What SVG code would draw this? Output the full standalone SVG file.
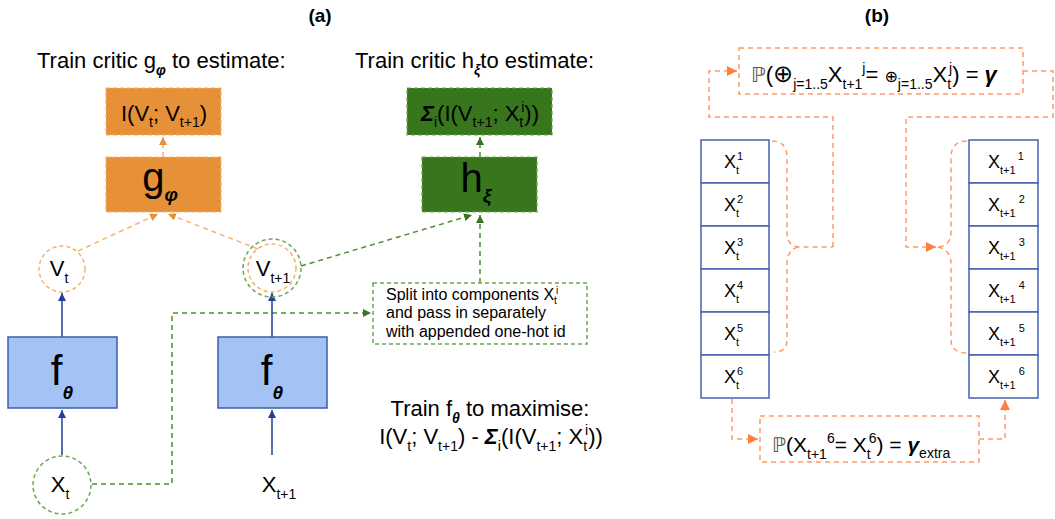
<svg xmlns="http://www.w3.org/2000/svg" width="1055" height="519" viewBox="0 0 1055 519">
<defs>
<style>
text{font-family:"Liberation Sans",Arial,"DejaVu Sans",sans-serif;fill:#000}
.ttl{font-size:22px}
.hd{font-size:19px;font-weight:bold}
.sub{font-size:14px}
.gi{font-weight:bold;font-style:italic}
.oa{stroke:#F6B26B;stroke-width:1.5;stroke-dasharray:5 4;fill:none}
.ga{stroke:#4E8F2E;stroke-width:1.5;stroke-dasharray:5 4;fill:none}
.ba{stroke:#1F3F99;stroke-width:1.5;fill:none}
.ca{stroke:#FF9966;stroke-width:1.5;stroke-dasharray:5 4;fill:none}
.cell{fill:#fff;stroke:#4562B0;stroke-width:1.5}
.cx{font-size:18px}
.cs{font-size:11px}
</style>
<marker id="mo" markerWidth="10" markerHeight="10" refX="8" refY="4" orient="auto" markerUnits="userSpaceOnUse"><path d="M0,0 L8,4 L0,8 z" fill="#E69138"/></marker>
<marker id="mg" markerWidth="10" markerHeight="10" refX="8" refY="4" orient="auto" markerUnits="userSpaceOnUse"><path d="M0,0 L8,4 L0,8 z" fill="#38761D"/></marker>
<marker id="mb" markerWidth="10" markerHeight="10" refX="8" refY="4" orient="auto" markerUnits="userSpaceOnUse"><path d="M0,0 L8,4 L0,8 z" fill="#1F3F99"/></marker>
<marker id="mc" markerWidth="12" markerHeight="12" refX="10" refY="5" orient="auto" markerUnits="userSpaceOnUse"><path d="M0,0 L10,5 L0,10 z" fill="#FF7F3F"/></marker>
</defs>

<text class="hd" x="320" y="22" text-anchor="middle">(a)</text>
<text class="hd" x="877" y="22" text-anchor="middle">(b)</text>

<text class="ttl" x="37" y="68">Train critic g<tspan class="sub gi" dy="7">φ</tspan><tspan dy="-7"> to estimate:</tspan></text>
<text class="ttl" x="355" y="68">Train critic h<tspan class="sub gi" dy="7">ξ</tspan><tspan dy="-7">to estimate:</tspan></text>

<g id="connectors">
<line class="oa" x1="163" y1="157" x2="163" y2="137" marker-end="url(#mo)"/>
<line class="oa" x1="78" y1="251" x2="158" y2="214" marker-end="url(#mo)"/>
<line class="oa" x1="258" y1="249" x2="168" y2="214" marker-end="url(#mo)"/>
<line class="ga" x1="480" y1="157" x2="480" y2="137" marker-end="url(#mg)"/>
<line class="ga" x1="480" y1="283" x2="480" y2="215" marker-end="url(#mg)"/>
<line class="ga" x1="301" y1="266" x2="472" y2="215" marker-end="url(#mg)"/>
<path class="ga" d="M92,484 H172 V313 H371" marker-end="url(#mg)"/>
<line class="ba" x1="62" y1="337" x2="62" y2="293" marker-end="url(#mb)"/>
<line class="ba" x1="62" y1="455" x2="62" y2="410" marker-end="url(#mb)"/>
<line class="ba" x1="272" y1="337" x2="272" y2="293" marker-end="url(#mb)"/>
<line class="ba" x1="272" y1="455" x2="272" y2="410" marker-end="url(#mb)"/>
<path class="ca" d="M833,247 V117 H709 V71 H737" marker-end="url(#mc)"/>
<path class="ca" d="M1023,71 H1053 V117 H906 V247 H936" marker-end="url(#mc)"/>
<path class="ca" d="M772,141 Q787,141 787,158 V232 Q787,247 800,247 H833"/>
<path class="ca" d="M798,247 Q787,250 787,264 V340 Q787,352 774,352"/>
<path class="ca" d="M967,141 Q951,141 951,158 V232 Q951,247 936,247"/>
<path class="ca" d="M938,247 Q951,250 951,264 V340 Q951,353 968,353"/>
<path class="ca" d="M732,399 V439 H758" marker-end="url(#mc)"/>
<path class="ca" d="M979,439 H1005 V400" marker-end="url(#mc)"/>
</g>

<g id="node-ivv">
<rect x="106" y="88" width="115" height="47" fill="#E69138" stroke="#F6B26B" stroke-width="1.2" stroke-dasharray="4 3"/>
<text class="ttl" x="164" y="121" text-anchor="middle">I(V<tspan class="sub" dy="6">t</tspan><tspan dy="-6">; V</tspan><tspan class="sub" dy="6">t+1</tspan><tspan dy="-6">)</tspan></text>
</g>
<g id="node-g">
<rect x="106" y="157" width="115" height="55" fill="#E69138" stroke="#F6B26B" stroke-width="1.2" stroke-dasharray="4 3"/>
<text x="160" y="191" font-size="40" text-anchor="middle">g<tspan class="gi" font-size="19" dy="10">φ</tspan></text>
</g>
<g id="node-sigma">
<rect x="407" y="88" width="145" height="47" fill="#38761D" stroke="#6AA84F" stroke-width="1.2" stroke-dasharray="4 3"/>
<text class="ttl" x="480" y="121" text-anchor="middle"><tspan class="gi">Σ</tspan><tspan class="sub" dy="6">i</tspan><tspan dy="-6">(I(V</tspan><tspan class="sub" dy="6">t+1</tspan><tspan dy="-6">; X</tspan><tspan class="sub" dy="6">t</tspan><tspan class="sub" dx="-2" dy="-15">i</tspan><tspan dy="9">))</tspan></text>
</g>
<g id="node-h">
<rect x="422" y="157" width="115" height="55" fill="#38761D" stroke="#6AA84F" stroke-width="1.2" stroke-dasharray="4 3"/>
<text x="476" y="192" font-size="40" text-anchor="middle">h<tspan class="gi" font-size="19" dy="10">ξ</tspan></text>
</g>
<g id="node-vt">
<circle cx="62" cy="269" r="23" fill="none" stroke="#F6B26B" stroke-width="1.5" stroke-dasharray="4 3"/>
<text class="ttl" x="59" y="276" text-anchor="middle">V<tspan class="sub" dy="7">t</tspan></text>
</g>
<g id="node-vt1">
<circle cx="272" cy="268" r="24" fill="none" stroke="#F6B26B" stroke-width="1.5" stroke-dasharray="4 3"/>
<circle cx="272" cy="268" r="29" fill="none" stroke="#6AA84F" stroke-width="1.5" stroke-dasharray="4 3"/>
<text class="ttl" x="273" y="276" text-anchor="middle">V<tspan class="sub" dy="7">t+1</tspan></text>
</g>
<g id="node-f1">
<rect x="8" y="337" width="109" height="71" fill="#A4C2F4" stroke="#3C5DAA" stroke-width="1.5"/>
<text x="62" y="385" font-size="42" text-anchor="middle">f<tspan class="gi" font-size="19" dy="14">θ</tspan></text>
</g>
<g id="node-f2">
<rect x="218" y="337" width="109" height="71" fill="#A4C2F4" stroke="#3C5DAA" stroke-width="1.5"/>
<text x="272" y="385" font-size="42" text-anchor="middle">f<tspan class="gi" font-size="19" dy="14">θ</tspan></text>
</g>
<g id="node-xt">
<circle cx="62" cy="485" r="29" fill="none" stroke="#6AA84F" stroke-width="1.5" stroke-dasharray="4 3"/>
<text class="ttl" x="60" y="492" text-anchor="middle">X<tspan class="sub" dy="7">t</tspan></text>
</g>
<g id="node-xt1">
<text class="ttl" x="279" y="492" text-anchor="middle">X<tspan class="sub" dy="7">t+1</tspan></text>
</g>
<g id="node-split">
<rect x="373" y="283" width="214" height="61" fill="#fff" stroke="#6AA84F" stroke-width="1.5" stroke-dasharray="4 3"/>
<text font-size="16" x="386" y="300">Split into components X<tspan font-size="10" dy="4">t</tspan><tspan font-size="10" dx="-1" dy="-10">i</tspan></text>
<text font-size="16" x="386" y="318">and pass in separately</text>
<text font-size="16" x="386" y="337">with appended one-hot id</text>
</g>
<g id="node-trainf">
<text class="ttl" x="490" y="416" text-anchor="middle">Train f<tspan class="sub gi" dy="7">θ</tspan><tspan dy="-7"> to maximise:</tspan></text>
<text class="ttl" x="491" y="444" text-anchor="middle">I(V<tspan class="sub" dy="7">t</tspan><tspan dy="-7">; V</tspan><tspan class="sub" dy="7">t+1</tspan><tspan dy="-7">) - </tspan><tspan class="gi">Σ</tspan><tspan class="sub" dy="7">i</tspan><tspan dy="-7">(I(V</tspan><tspan class="sub" dy="7">t+1</tspan><tspan dy="-7">; X</tspan><tspan class="sub" dy="7">t</tspan><tspan class="sub" dx="-2" dy="-16">i</tspan><tspan dy="9">))</tspan></text>
</g>

<g id="node-top-b">
<rect x="739" y="48" width="284" height="46" fill="none" stroke="#FF9966" stroke-width="1.5" stroke-dasharray="5 4"/>
<text x="751" y="82" font-size="22"><tspan font-family="DejaVu Sans" fill="#555" font-size="21">ℙ</tspan>(<tspan font-size="24">⊕</tspan><tspan class="sub" dy="7">j=1..5</tspan><tspan dy="-7">X</tspan><tspan class="sub" dy="7">t+1</tspan><tspan class="sub" dy="-16">j</tspan><tspan dy="9">= </tspan><tspan font-size="16">⊕</tspan><tspan class="sub" dy="7">j=1..5</tspan><tspan dy="-7">X</tspan><tspan class="sub" dy="7">t</tspan><tspan class="sub" dx="-2" dy="-16">j</tspan><tspan dy="9">) = </tspan><tspan class="gi">γ</tspan></text>
</g>

<g id="node-colL">
<rect class="cell" x="701" y="140" width="68" height="43"/>
<rect class="cell" x="701" y="183" width="68" height="43"/>
<rect class="cell" x="701" y="226" width="68" height="43"/>
<rect class="cell" x="701" y="269" width="68" height="43"/>
<rect class="cell" x="701" y="312" width="68" height="43"/>
<rect class="cell" x="701" y="355" width="68" height="43"/>
<text class="cx" x="724" y="168">X<tspan class="cs" dy="6">t</tspan><tspan class="cs" dx="-2" dy="-14">1</tspan></text>
<text class="cx" x="724" y="211">X<tspan class="cs" dy="6">t</tspan><tspan class="cs" dx="-2" dy="-14">2</tspan></text>
<text class="cx" x="724" y="254">X<tspan class="cs" dy="6">t</tspan><tspan class="cs" dx="-2" dy="-14">3</tspan></text>
<text class="cx" x="724" y="297">X<tspan class="cs" dy="6">t</tspan><tspan class="cs" dx="-2" dy="-14">4</tspan></text>
<text class="cx" x="724" y="340">X<tspan class="cs" dy="6">t</tspan><tspan class="cs" dx="-2" dy="-14">5</tspan></text>
<text class="cx" x="724" y="383">X<tspan class="cs" dy="6">t</tspan><tspan class="cs" dx="-2" dy="-14">6</tspan></text>
</g>
<g id="node-colR">
<rect class="cell" x="969" y="140" width="69" height="43"/>
<rect class="cell" x="969" y="183" width="69" height="43"/>
<rect class="cell" x="969" y="226" width="69" height="43"/>
<rect class="cell" x="969" y="269" width="69" height="43"/>
<rect class="cell" x="969" y="312" width="69" height="43"/>
<rect class="cell" x="969" y="355" width="69" height="43"/>
<text class="cx" x="988" y="168">X<tspan class="cs" dy="6">t+1</tspan><tspan class="cs" dx="3" dy="-14">1</tspan></text>
<text class="cx" x="988" y="211">X<tspan class="cs" dy="6">t+1</tspan><tspan class="cs" dx="3" dy="-14">2</tspan></text>
<text class="cx" x="988" y="254">X<tspan class="cs" dy="6">t+1</tspan><tspan class="cs" dx="3" dy="-14">3</tspan></text>
<text class="cx" x="988" y="297">X<tspan class="cs" dy="6">t+1</tspan><tspan class="cs" dx="3" dy="-14">4</tspan></text>
<text class="cx" x="988" y="340">X<tspan class="cs" dy="6">t+1</tspan><tspan class="cs" dx="3" dy="-14">5</tspan></text>
<text class="cx" x="988" y="383">X<tspan class="cs" dy="6">t+1</tspan><tspan class="cs" dx="3" dy="-14">6</tspan></text>
</g>

<g id="node-bottom-b">
<rect x="760" y="416" width="219" height="46" fill="none" stroke="#FF9966" stroke-width="1.5" stroke-dasharray="5 4"/>
<text x="772" y="452" font-size="21"><tspan font-family="DejaVu Sans" fill="#555" font-size="20">ℙ</tspan>(X<tspan class="sub" dy="7">t+1</tspan><tspan class="sub" dy="-16">6</tspan><tspan dy="9">= X</tspan><tspan class="sub" dy="7">t</tspan><tspan class="sub" dx="-2" dy="-16">6</tspan><tspan dy="9">) = </tspan><tspan class="gi">γ</tspan><tspan class="sub" dy="6">extra</tspan></text>
</g>
</svg>
